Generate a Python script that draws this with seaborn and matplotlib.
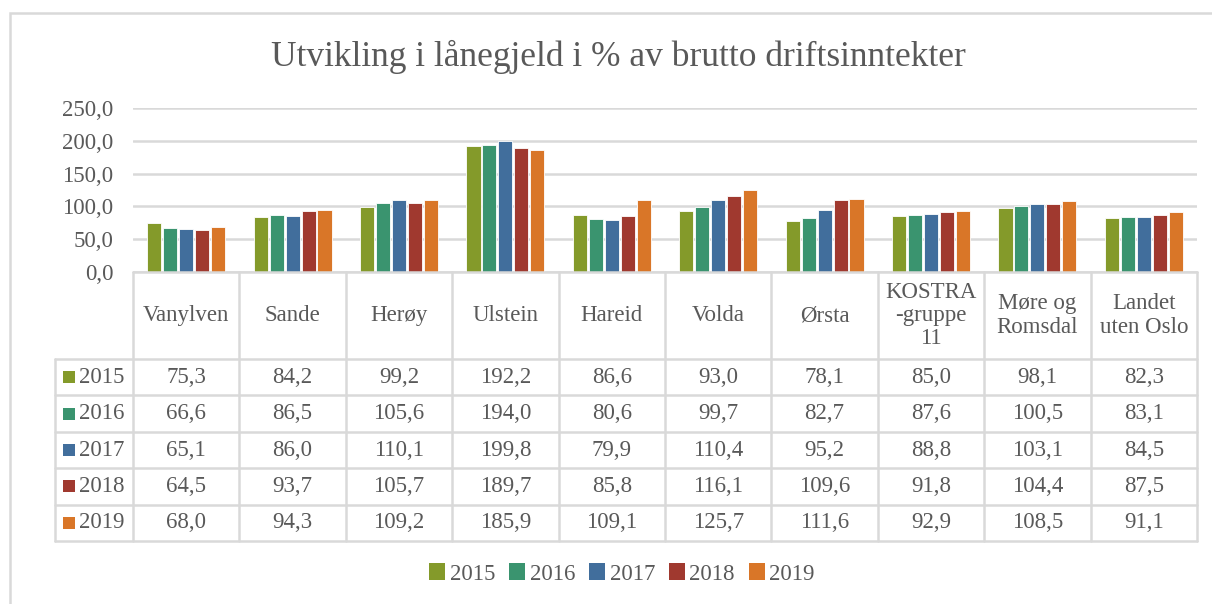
import matplotlib
matplotlib.use("Agg")
import matplotlib.pyplot as plt
import seaborn as sns
import pandas as pd
from matplotlib.patches import Rectangle

categories = ["Vanylven", "Sande", "Herøy", "Ulstein", "Hareid", "Volda", "Ørsta",
              "KOSTRA\n-gruppe\n11", "Møre og\nRomsdal", "Landet\nuten Oslo"]
years = ["2015", "2016", "2017", "2018", "2019"]
v2015 = [75.3, 84.2, 99.2, 192.2, 86.6, 93.0, 78.1, 85.0, 98.1, 82.3]
v2016 = [66.6, 86.5, 105.6, 194.0, 80.6, 99.7, 82.7, 87.6, 100.5, 83.1]
v2017 = [65.1, 86.0, 110.1, 199.8, 79.9, 110.4, 95.2, 88.8, 103.1, 84.5]
v2018 = [64.5, 93.7, 105.7, 189.7, 85.8, 116.1, 109.6, 91.8, 104.4, 87.5]
v2019 = [68.0, 94.3, 109.2, 185.9, 109.1, 125.7, 111.6, 92.9, 108.5, 91.1]
yticks = [0, 50, 100, 150, 200, 250]
title = "Utvikling i lånegjeld i % av brutto driftsinntekter"

colors = ["#849A2A", "#3A946F", "#416E9C", "#A0392F", "#D97628"]
series = [v2015, v2016, v2017, v2018, v2019]

rows = []
for y, vals in zip(years, series):
    for c, v in zip(categories, vals):
        rows.append({"cat": c, "year": y, "val": v})
df = pd.DataFrame(rows)

sns.set_theme(style="white")
plt.rcParams["font.family"] = ["Liberation Serif", "DejaVu Serif"]
TXT = "#595959"
GRID = "#D9D9D9"
FS = 16.5

W, H = 1212, 604
fig = plt.figure(figsize=(W / 100, H / 100), dpi=100)

def fx(px):
    return px / W

def fy(py):
    return 1 - py / H

# outer border
fig.patches.append(Rectangle((fx(10), fy(640)), fx(1230) - fx(10), fy(13) - fy(640),
                             transform=fig.transFigure, fill=False, edgecolor=GRID, lw=1.8))

x0, x1, ytop, ybot = 133, 1197, 108, 272
ax = fig.add_axes([fx(x0), fy(ybot), fx(x1) - fx(x0), fy(ytop) - fy(ybot)])
sns.barplot(data=df, x="cat", y="val", hue="year", palette=colors, ax=ax,
            width=0.75, gap=0.12, order=categories, hue_order=years,
            legend=False, saturation=1, edgecolor="white", linewidth=0.6)
ax.set_xlim(-0.5, len(categories) - 0.5)
ax.set_ylim(0, 250)
ax.set_yticks(yticks)
ax.set_yticklabels([f"{t:.1f}".replace(".", ",") for t in yticks], color=TXT, fontsize=FS)
ax.tick_params(axis="y", length=0, pad=14)
ax.set_xticks([])
ax.set_xlabel("")
ax.set_ylabel("")
for s in ax.spines.values():
    s.set_visible(False)
ax.grid(axis="y", color=GRID, lw=1.8)
ax.set_axisbelow(True)

# data table
tab_top, head_bot, tab_bot = 272, 359, 541
row_h = (tab_bot - head_bot) / len(years)
col_w = (x1 - x0) / len(categories)
lc = dict(color=GRID, lw=1.8, transform=fig.transFigure, clip_on=False)

fig.add_artist(plt.Line2D([fx(x0), fx(x1)], [fy(tab_top), fy(tab_top)], **lc))
for i in range(len(categories) + 1):
    xp = x0 + i * col_w
    fig.add_artist(plt.Line2D([fx(xp), fx(xp)], [fy(tab_top), fy(tab_bot)], **lc))
left_col = 55
fig.add_artist(plt.Line2D([fx(left_col), fx(left_col)], [fy(head_bot), fy(tab_bot)], **lc))
for r in range(len(years) + 1):
    yp = head_bot + r * row_h
    fig.add_artist(plt.Line2D([fx(left_col), fx(x1)], [fy(yp), fy(yp)], **lc))

for i, c in enumerate(categories):
    xc = x0 + (i + 0.5) * col_w
    fig.text(fx(xc), fy((tab_top + head_bot) / 2), c, ha="center", va="center",
             color=TXT, fontsize=FS, linespacing=1.15)
    for r, vals in enumerate(series):
        yc = head_bot + (r + 0.5) * row_h
        fig.text(fx(xc), fy(yc), f"{vals[i]:.1f}".replace(".", ","), ha="center",
                 va="center", color=TXT, fontsize=FS)

for r, (y, col) in enumerate(zip(years, colors)):
    yc = head_bot + (r + 0.5) * row_h
    fig.patches.append(Rectangle((fx(63), fy(yc + 6)), fx(12), fy(0) - fy(12),
                                 transform=fig.transFigure, facecolor=col, edgecolor="none"))
    fig.text(fx(79), fy(yc), y, ha="left", va="center", color=TXT, fontsize=FS)

# legend
handles = [Rectangle((0, 0), 1, 1, facecolor=c, edgecolor="none") for c in colors]
fig.legend(handles, years, loc="center", bbox_to_anchor=(fx(622), fy(574)), ncol=5,
           frameon=False, fontsize=FS, handlelength=0.7, handleheight=0.7,
           handletextpad=0.2, columnspacing=0.6, labelcolor=TXT)

fig.text(fx(618), fy(57), title, ha="center", va="center", color=TXT, fontsize=25.5)

fig.savefig("out.png", dpi=100)
